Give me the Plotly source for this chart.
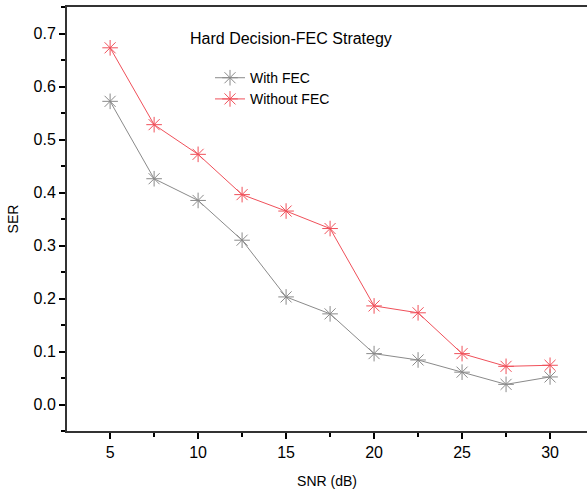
import plotly.graph_objects as go

snr = [5, 7.5, 10, 12.5, 15, 17.5, 20, 22.5, 25, 27.5, 30]
ser_with_fec = [0.572, 0.426, 0.385, 0.310, 0.203, 0.171, 0.096, 0.084, 0.061, 0.038, 0.052]
ser_without_fec = [0.673, 0.528, 0.472, 0.396, 0.365, 0.332, 0.186, 0.173, 0.096, 0.072, 0.074]

fig = go.Figure()
fig.add_trace(go.Scatter(
    x=snr, y=ser_with_fec, name="With FEC", mode="lines+markers",
    line=dict(color="#8a8a8a", width=1),
    marker=dict(symbol="asterisk-open", size=13, line=dict(color="#505050", width=1)),
))
fig.add_trace(go.Scatter(
    x=snr, y=ser_without_fec, name="Without FEC", mode="lines+markers",
    line=dict(color="#f0505a", width=1),
    marker=dict(symbol="asterisk-open", size=13, line=dict(color="#e8202e", width=1)),
))

font_family = "Liberation Sans, Arial, sans-serif"
fig.update_layout(
    width=587, height=491,
    margin=dict(l=67, r=0, t=7, b=60),
    paper_bgcolor="white", plot_bgcolor="white",
    font=dict(family=font_family, color="black"),
    showlegend=True,
    legend=dict(x=0.275, y=0.87, xanchor="left", yanchor="top",
                bgcolor="rgba(0,0,0,0)", font=dict(size=14, family=font_family),
                tracegroupgap=0, itemwidth=30),
    xaxis=dict(
        range=[2.55, 32.1], tickvals=[5, 10, 15, 20, 25, 30],
        ticks="outside", ticklen=6, tickwidth=1.5, tickcolor="black",
        minor=dict(dtick=2.5, tick0=0, ticks="outside", ticklen=4, tickcolor="black", tickwidth=1.5),
        showline=True, linecolor="#333333", linewidth=2, mirror=True,
        showgrid=False, zeroline=False,
        tickfont=dict(size=16),
        title=dict(text="SNR (dB)", font=dict(size=14), standoff=16),
    ),
    yaxis=dict(
        range=[-0.05, 0.75], tickvals=[0.0, 0.1, 0.2, 0.3, 0.4, 0.5, 0.6, 0.7],
        tickformat=".1f",
        ticks="outside", ticklen=6, tickwidth=1.5, tickcolor="black",
        minor=dict(dtick=0.05, tick0=0, ticks="outside", ticklen=4, tickcolor="black", tickwidth=1.5),
        showline=True, linecolor="#333333", linewidth=2, mirror=False,
        showgrid=False, zeroline=False,
        tickfont=dict(size=16),
        title=dict(text="SER", font=dict(size=14), standoff=12),
    ),
    annotations=[dict(
        text="Hard Decision-FEC Strategy", xref="paper", yref="paper",
        x=0.233, y=0.925, xanchor="left", yanchor="middle", showarrow=False,
        font=dict(size=16, family=font_family),
    )],
)

fig.write_html("out.html")
